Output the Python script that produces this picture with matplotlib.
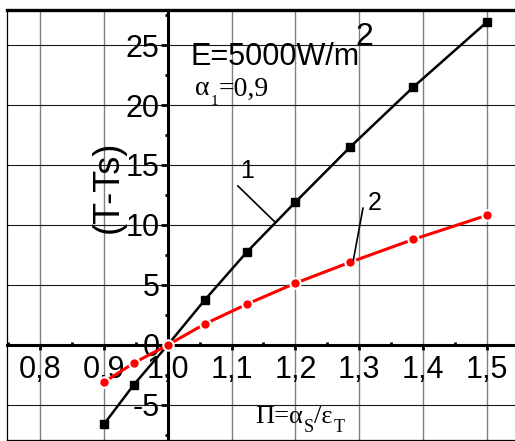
import matplotlib
matplotlib.use("Agg")
import matplotlib.pyplot as plt
from matplotlib.ticker import MultipleLocator, FixedLocator

# Data: overheating (T - Ts) versus Pi = alpha_S / eps_T
pi_values = [0.9, 0.947, 1.0, 1.058, 1.124, 1.2, 1.286, 1.385, 1.5]
dT_curve1 = [-6.6, -3.3, 0.0, 3.75, 7.75, 11.9, 16.5, 21.5, 26.9]
dT_curve2 = [-3.1, -1.5, 0.0, 1.75, 3.4, 5.15, 6.9, 8.8, 10.8]

x_ticks = [0.8, 0.9, 1.0, 1.1, 1.2, 1.3, 1.4, 1.5]
x_tick_labels = ["0,8", "0,9", "1,0", "1,1", "1,2", "1,3", "1,4", "1,5"]
y_ticks = [-5, 0, 5, 10, 15, 20, 25]
y_tick_labels = ["-5", "0", "5", "10", "15", "20", "25"]

fig = plt.figure(figsize=(5.15, 4.41), dpi=100)
ax = fig.add_axes([7 / 515, 1 / 441, 518 / 515, 430.5 / 441])
ax.set_xlim(0.748, 1.56)
ax.set_ylim(-7.92, 27.96)

# grid
for xv in x_ticks:
    ax.axvline(xv, color="#808080", lw=1.0, zorder=0)
for yv in y_ticks:
    ax.axhline(yv, color="#1a1a1a", lw=0.8, zorder=0)

# axes crossing at (1, 0)
ax.spines["left"].set_position(("data", 1.0))
ax.spines["bottom"].set_position(("data", 0.0))
ax.spines["left"].set_linewidth(2.2)
ax.spines["bottom"].set_linewidth(2.2)
ax.spines["right"].set_visible(False)
ax.spines["top"].set_linewidth(2.4)

# outer frame (left and bottom edges)
ax.plot([0, 0], [0, 1], transform=ax.transAxes, color="k", lw=0.9, clip_on=False)
ax.plot([0, 1], [0, 0], transform=ax.transAxes, color="k", lw=0.9, clip_on=False)

ax.xaxis.set_major_locator(FixedLocator(x_ticks))
ax.set_xticklabels(x_tick_labels)
ax.yaxis.set_major_locator(FixedLocator(y_ticks))
ax.set_yticklabels(y_tick_labels)
ax.xaxis.set_minor_locator(MultipleLocator(0.05))
ax.yaxis.set_minor_locator(MultipleLocator(2.5))

for lab in ax.get_xticklabels() + ax.get_yticklabels():
    lab.set_fontfamily("Liberation Sans")
    lab.set_fontsize(22)

ax.tick_params(axis="x", which="major", direction="out", length=3.5, width=2.0, pad=4)
ax.tick_params(axis="x", which="minor", direction="in", length=2.5, width=2.0)
ax.tick_params(axis="y", which="major", direction="out", length=5, width=2.0, pad=1)
ax.tick_params(axis="y", which="minor", direction="out", length=2, width=2.0)

# curves
ax.plot(pi_values, dT_curve1, color="black", lw=1.8, marker="s", ms=6,
        mfc="black", mec="black", zorder=3, clip_on=False)
ax.plot(pi_values, dT_curve2, color="red", lw=2.2, marker="o", ms=7.5,
        mfc="red", mec="white", mew=1.5, zorder=4, clip_on=False)

# curve labels with leader lines
ax.plot([1.110, 1.168], [13.25, 10.25], color="black", lw=1.2, zorder=5)
ax.text(1.125, 14.5, "1", fontsize=18, family="Liberation Sans",
        ha="center", va="center")
ax.plot([1.306, 1.291], [11.4, 7.1], color="black", lw=1.2, zorder=5)
ax.text(1.325, 11.8, "2", fontsize=18, family="Liberation Sans",
        ha="center", va="center")


def serif_with_subscripts(x, y, parts, size, sub_size):
    """Write alternating main/subscript pieces of serif text, chained left to right."""
    first = ax.text(x, y, parts[0], fontsize=size, family="Liberation Serif",
                    ha="left", va="baseline")
    prev = first
    for i, piece in enumerate(parts[1:], start=1):
        if i % 2 == 1:
            prev = ax.annotate(piece, xy=(1, 0), xycoords=(prev, first),
                               xytext=(0.5, 0), textcoords="offset points",
                               fontsize=sub_size, family="Liberation Serif",
                               ha="left", va="center")
        else:
            prev = ax.annotate(piece, xy=(1, 0), xycoords=(prev, first),
                               xytext=(0.5, 0), textcoords="offset points",
                               fontsize=size, family="Liberation Serif",
                               ha="left", va="bottom")
    return first


# annotations
ax.text(1.035, 23.3, "E=5000W/m", fontsize=22, family="Liberation Sans",
        ha="left", va="baseline")
ax.text(1.294, 25.0, "2", fontsize=23, family="Liberation Sans",
        ha="left", va="baseline")
serif_with_subscripts(1.043, 20.8, ["α", "1", "=0,9"], 20, 11)

serif_with_subscripts(1.137, -6.5, ["Π=α", "S", "/ε", "T"], 19, 13)

ax.text(0.906, 13.2, "(T-Ts)", fontsize=26, family="Liberation Sans",
        rotation=90, ha="center", va="center")

fig.savefig("out.png", dpi=100)
